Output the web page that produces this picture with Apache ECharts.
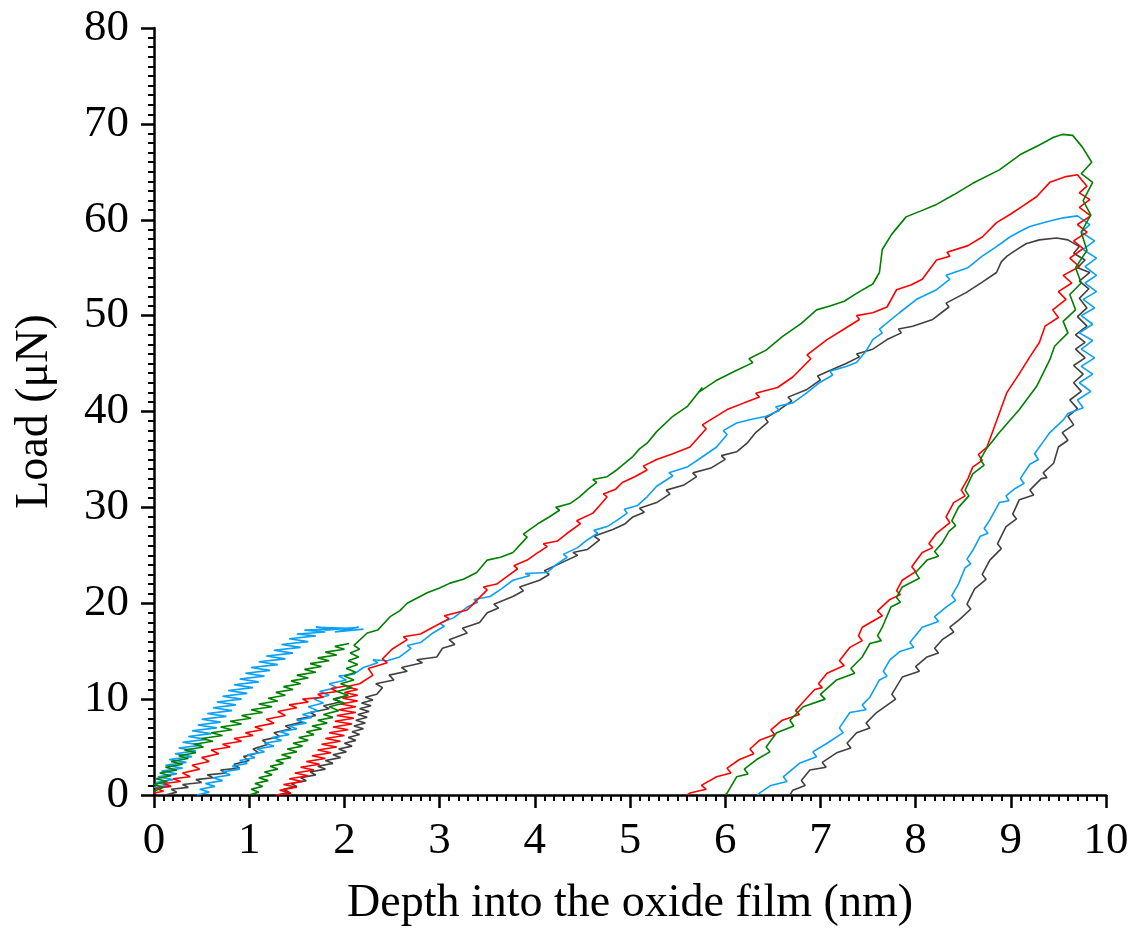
<!DOCTYPE html>
<html>
<head>
<meta charset="utf-8">
<script src="https://cdn.jsdelivr.net/npm/echarts@6/dist/echarts.min.js"></script>
<style>html,body{margin:0;padding:0;background:#fff;}#c{width:1141px;height:938px;}</style>
</head>
<body>
<div id="c"></div>
<script>
var xTitle = 'Depth into the oxide film (nm)';
var yTitle = 'Load (\u03bcN)';
var seriesNames = ['black', 'blue', 'red', 'green'];
var seriesColors = ['#404040', '#0aa0f5', '#ff0000', '#008000'];

var blackA = [[0.12,0],[0.24,0.3],[0.18,0.6],[0.36,0.8],[0.3,1.1],[0.5,1.3],[0.44,1.6],[0.62,1.8],[0.56,2.1],[0.76,2.3],[0.7,2.6],[0.9,2.8],[0.84,3.2],[1.0,3.6],[0.94,4.0],[1.1,4.4],[1.04,4.8],[1.2,5.3],[1.14,5.7],[1.32,6.1],[1.26,6.5],[1.44,6.9],[1.38,7.2],[1.56,7.6],[1.5,7.9],[1.7,8.3],[1.64,8.6],[1.84,9.0],[1.78,9.3],[1.96,9.7],[1.9,10.0],[2.04,10.4]];
var blackB = [[1.3,0],[1.42,0.3],[1.36,0.6],[1.5,0.9],[1.44,1.2],[1.6,1.5],[1.54,1.8],[1.7,2.1],[1.64,2.4],[1.8,2.7],[1.72,3.0],[1.88,3.3],[1.8,3.6],[1.96,3.9],[1.88,4.2],[2.02,4.5],[1.94,4.8],[2.08,5.1],[2.0,5.4],[2.12,5.7],[2.04,6.0],[2.16,6.3],[2.08,6.6],[2.2,6.9],[2.1,7.2],[2.22,7.5],[2.12,7.8],[2.24,8.1],[2.14,8.4],[2.26,8.7],[2.16,9.0],[2.28,9.3],[2.18,9.6],[2.3,9.9],[2.22,10.2],[2.34,10.5],[2.4,11.2],[2.33,11.6],[2.52,12.0],[2.47,12.5],[2.66,12.9],[2.6,13.3],[2.82,13.8],[2.76,14.1],[2.97,14.4],[3.03,15.3],[3.16,15.7],[3.1,16.2],[3.29,16.9],[3.24,17.4],[3.42,18.0],[3.5,19.0],[3.62,19.5],[3.57,19.9],[3.77,20.7],[3.88,21.3],[3.84,21.7],[4.05,22.4],[4.15,23.0],[4.1,23.4],[4.34,24.5],[4.45,25.0],[4.4,25.3],[4.55,25.6],[4.68,26.6],[4.62,27.0],[4.82,27.7],[4.95,28.3],[5.03,29.0],[5.15,29.5],[5.1,29.9],[5.28,30.5],[5.42,31.4],[5.38,31.8],[5.56,32.3],[5.7,33.2],[5.66,33.6],[5.85,34.1],[6.0,35.0],[5.96,35.4],[6.12,35.8],[6.23,36.7],[6.32,37.8],[6.45,38.9],[6.42,39.3],[6.57,40.2],[6.7,41.1],[6.66,41.5],[6.86,42.3],[7.0,43.3],[6.97,43.7],[7.13,44.4],[7.27,45.0],[7.41,45.7],[7.38,46.0],[7.55,46.5],[7.7,47.5],[7.85,48.2],[7.82,48.6],[7.97,48.9],[8.18,49.6],[8.35,50.9],[8.32,51.3],[8.53,52.4],[8.7,53.5],[8.85,54.5],[8.9,55.6],[8.96,56.2],[9.05,56.8],[9.16,57.5],[9.3,57.9],[9.48,58.1],[9.6,57.9],[9.72,57.2],[9.66,56.5],[9.78,55.8],[9.7,55.0],[9.83,54.5],[9.72,53.6],[9.82,52.8],[9.72,51.8],[9.8,50.8],[9.7,49.9],[9.8,48.9],[9.68,48.0],[9.78,47.2],[9.68,46.5],[9.78,45.6],[9.66,44.8],[9.76,43.9],[9.66,43.0],[9.74,42.1],[9.62,41.2],[9.7,40.3],[9.6,39.5],[9.66,38.6],[9.54,37.8],[9.6,37.0],[9.5,36.3],[9.45,34.6],[9.34,33.6],[9.38,33.1],[9.32,33.0],[9.2,31.8],[9.24,31.3],[9.09,30.8],[9.02,29.3],[9.06,28.8],[8.95,28.0],[8.86,26.2],[8.9,25.7],[8.78,24.5],[8.7,23.0],[8.74,22.5],[8.62,21.5],[8.54,19.9],[8.58,19.4],[8.46,18.3],[8.36,17.5],[8.4,17.0],[8.28,16.2],[8.2,15.3],[8.24,14.8],[8.12,14.4],[8.0,13.4],[8.04,12.9],[7.86,12.3],[7.75,10.5],[7.79,10.0],[7.59,8.6],[7.48,7.5],[7.52,7.0],[7.38,6.5],[7.28,5.4],[7.32,4.9],[7.17,4.4],[7.02,3.4],[7.06,2.9],[6.89,2.6],[6.8,1.5],[6.84,1.0],[6.71,0.5],[6.68,0]];

var blueA = [[0.0,0.8],[0.16,1.0],[0.02,1.3],[0.2,1.6],[0.04,1.9],[0.24,2.2],[0.08,2.5],[0.3,2.8],[0.12,3.1],[0.34,3.4],[0.16,3.7],[0.4,4.0],[0.22,4.3],[0.44,4.6],[0.26,4.9],[0.5,5.2],[0.3,5.5],[0.55,5.8],[0.36,6.1],[0.6,6.4],[0.4,6.7],[0.66,7.0],[0.46,7.3],[0.7,7.6],[0.5,7.9],[0.76,8.2],[0.56,8.5],[0.82,8.8],[0.62,9.1],[0.86,9.4],[0.66,9.7],[0.92,10.0],[0.72,10.3],[0.98,10.6],[0.78,10.9],[1.04,11.2],[0.84,11.5],[1.1,11.8],[0.9,12.1],[1.16,12.4],[0.96,12.7],[1.22,13.0],[1.02,13.3],[1.3,13.6],[1.1,13.9],[1.38,14.2],[1.18,14.5],[1.46,14.8],[1.26,15.1],[1.54,15.4],[1.34,15.7],[1.62,16.0],[1.42,16.3],[1.7,16.6],[1.5,16.8],[1.8,17.0],[1.58,17.2],[1.92,17.3],[1.7,17.5],[2.05,17.4],[1.8,17.2],[2.15,17.5],[1.9,17.0],[2.2,17.3]];
var blueB = [[0.45,0],[0.58,0.3],[0.48,0.6],[0.64,0.9],[0.54,1.2],[0.72,1.5],[0.62,1.8],[0.8,2.1],[0.72,2.4],[0.9,2.7],[0.82,3.0],[0.98,3.3],[0.9,3.6],[1.06,3.9],[0.98,4.2],[1.16,4.5],[1.08,4.8],[1.26,5.1],[1.16,5.4],[1.34,5.7],[1.24,6.0],[1.42,6.3],[1.32,6.6],[1.5,6.9],[1.42,7.2],[1.6,7.5],[1.5,7.8],[1.66,8.1],[1.56,8.4],[1.72,8.8],[1.62,9.2],[1.78,9.6],[1.68,10.0],[1.84,10.4],[1.74,10.8],[1.92,11.2],[1.84,11.6],[2.02,12.0],[1.94,12.4],[2.1,12.6],[2.2,13.3],[2.35,13.8],[2.3,14.1],[2.45,14.0],[2.58,14.4],[2.7,15.3],[2.66,15.6],[2.8,15.9],[2.93,16.9],[3.05,17.6],[3.0,17.9],[3.15,18.5],[3.29,19.6],[3.4,20.1],[3.36,20.4],[3.53,20.7],[3.65,21.5],[3.77,22.4],[3.95,22.9],[3.9,23.1],[4.13,23.2],[4.22,24.0],[4.34,24.8],[4.3,25.1],[4.45,25.8],[4.55,26.6],[4.66,27.3],[4.62,27.6],[4.76,28.0],[4.87,28.7],[4.97,29.4],[4.94,29.8],[5.08,30.2],[5.18,31.1],[5.28,32.2],[5.45,33.3],[5.41,33.6],[5.6,34.2],[5.75,35.2],[5.91,36.3],[6.02,37.6],[5.98,38.0],[6.12,38.8],[6.28,39.2],[6.43,39.5],[6.57,40.1],[6.53,40.5],[6.71,40.9],[6.85,41.9],[6.99,43.0],[7.13,43.8],[7.1,44.2],[7.27,44.7],[7.38,45.1],[7.48,46.3],[7.55,47.5],[7.65,48.2],[7.62,48.6],[7.83,50.3],[8.01,51.7],[8.22,52.7],[8.36,53.8],[8.32,54.2],[8.55,55.0],[8.7,56.2],[8.85,57.2],[8.99,58.2],[9.1,58.8],[9.2,59.3],[9.38,59.8],[9.55,60.2],[9.7,60.4],[9.83,59.5],[9.74,58.7],[9.88,57.8],[9.76,56.9],[9.9,56.0],[9.78,55.1],[9.9,54.2],[9.78,53.4],[9.9,52.5],[9.76,51.7],[9.88,50.8],[9.74,50.0],[9.86,49.1],[9.72,48.2],[9.86,47.4],[9.74,46.5],[9.88,45.6],[9.74,44.7],[9.86,43.9],[9.72,43.0],[9.84,42.1],[9.7,41.2],[9.76,40.4],[9.6,39.8],[9.55,39.1],[9.41,37.8],[9.33,36.7],[9.25,35.6],[9.29,35.0],[9.2,34.5],[9.1,33.0],[9.14,32.5],[9.05,32.0],[8.95,31.2],[8.98,30.7],[8.88,30.5],[8.78,28.7],[8.72,27.8],[8.76,27.3],[8.68,27.0],[8.6,25.5],[8.54,24.6],[8.58,24.1],[8.52,23.7],[8.45,22.0],[8.38,20.8],[8.42,20.3],[8.32,19.6],[8.2,18.6],[8.24,18.1],[8.07,17.5],[7.94,15.9],[7.98,15.4],[7.84,15.0],[7.73,14.1],[7.66,12.9],[7.7,12.4],[7.62,12.0],[7.52,10.2],[7.44,9.4],[7.48,8.9],[7.31,8.6],[7.2,7.0],[7.24,6.5],[7.07,5.4],[6.92,4.5],[6.96,4.0],[6.78,3.3],[6.61,1.9],[6.65,1.4],[6.48,1.0],[6.36,0.2],[6.34,0]];

var redA = [[0.0,0.2],[0.1,0.4],[0.02,0.7],[0.18,0.9],[0.1,1.2],[0.28,1.4],[0.2,1.7],[0.38,1.9],[0.3,2.3],[0.48,2.7],[0.4,3.1],[0.58,3.5],[0.5,3.9],[0.68,4.3],[0.6,4.7],[0.8,5.0],[0.72,5.3],[0.92,5.6],[0.84,5.9],[1.04,6.2],[0.96,6.5],[1.14,6.8],[1.06,7.1],[1.26,7.5],[1.18,7.9],[1.38,8.3],[1.3,8.7],[1.5,9.1],[1.42,9.4],[1.62,9.7],[1.56,10.0],[1.78,10.2],[1.72,10.5],[1.92,10.8],[1.86,11.1],[2.03,11.4]];
var redB = [[1.28,0],[1.44,0.2],[1.32,0.5],[1.5,0.8],[1.36,1.1],[1.56,1.4],[1.42,1.7],[1.62,2.0],[1.48,2.3],[1.68,2.6],[1.54,2.9],[1.74,3.2],[1.6,3.5],[1.8,3.8],[1.66,4.1],[1.86,4.4],[1.72,4.7],[1.92,5.0],[1.76,5.3],[1.96,5.6],[1.8,5.9],[2.0,6.2],[1.84,6.5],[2.04,6.8],[1.88,7.1],[2.08,7.4],[1.9,7.7],[2.1,8.0],[1.92,8.3],[2.12,8.6],[1.94,8.9],[2.12,9.2],[1.96,9.5],[2.14,9.8],[1.98,10.1],[2.14,10.4],[2.0,10.7],[2.14,11.0],[2.02,11.3],[2.16,11.6],[2.3,12.5],[2.25,13.2],[2.45,13.8],[2.4,14.2],[2.5,15.2],[2.66,16.2],[2.62,16.5],[2.8,16.8],[2.93,17.5],[3.1,18.4],[3.05,18.7],[3.29,19.3],[3.4,20.4],[3.5,21.4],[3.46,21.7],[3.6,22.0],[3.71,22.8],[3.82,23.6],[3.78,23.9],[3.92,24.5],[4.02,25.2],[4.13,25.9],[4.09,26.2],[4.24,26.5],[4.34,27.3],[4.48,28.3],[4.44,28.6],[4.61,29.4],[4.7,30.4],[4.76,31.1],[4.72,31.4],[4.85,31.9],[4.92,32.6],[5.05,33.2],[5.18,33.9],[5.14,34.3],[5.28,35.0],[5.45,35.6],[5.63,36.3],[5.8,38.2],[5.76,38.6],[6.02,40.2],[6.2,40.9],[6.36,41.5],[6.32,41.9],[6.55,42.5],[6.71,43.6],[6.9,45.5],[6.86,45.9],[7.07,47.5],[7.25,48.6],[7.41,49.6],[7.38,50.0],[7.55,50.3],[7.7,50.9],[7.8,52.7],[7.95,53.2],[8.07,53.8],[8.22,55.8],[8.36,56.2],[8.33,56.6],[8.55,57.3],[8.7,58.2],[8.85,59.7],[9.0,60.6],[9.12,61.4],[9.27,62.4],[9.41,63.9],[9.58,64.5],[9.7,64.7],[9.8,63.5],[9.72,62.8],[9.83,62.1],[9.72,61.3],[9.84,60.4],[9.7,59.5],[9.8,58.7],[9.66,57.8],[9.76,57.0],[9.62,56.0],[9.72,55.1],[9.55,54.2],[9.64,53.4],[9.5,52.5],[9.58,51.7],[9.44,50.6],[9.5,49.8],[9.36,48.9],[9.3,47.2],[9.2,45.7],[9.08,43.8],[8.96,42.0],[8.85,39.0],[8.75,36.3],[8.66,35.5],[8.7,34.9],[8.6,34.2],[8.55,33.0],[8.48,31.8],[8.52,31.2],[8.4,30.5],[8.32,29.0],[8.36,28.4],[8.22,27.3],[8.14,26.2],[8.18,25.8],[8.07,25.3],[7.96,23.8],[8.0,23.3],[7.86,22.4],[7.8,21.3],[7.84,20.9],[7.73,20.4],[7.6,19.2],[7.65,18.7],[7.44,17.5],[7.4,16.6],[7.44,16.1],[7.31,15.4],[7.2,14.0],[7.25,13.5],[7.07,12.7],[6.98,11.6],[7.02,11.2],[6.94,11.0],[6.81,9.6],[6.74,8.8],[6.78,8.4],[6.6,7.8],[6.48,6.8],[6.52,6.3],[6.36,5.7],[6.26,4.8],[6.3,4.3],[6.15,3.7],[6.02,2.8],[6.06,2.3],[5.91,1.9],[5.75,1.0],[5.8,0.6],[5.63,0.2],[5.6,0]];

var greenA = [[0.0,0.4],[0.1,0.8],[0.0,1.1],[0.14,1.4],[0.02,1.7],[0.18,2.0],[0.06,2.3],[0.24,2.6],[0.12,2.9],[0.3,3.2],[0.18,3.5],[0.36,3.8],[0.26,4.1],[0.44,4.4],[0.32,4.7],[0.52,5.0],[0.42,5.3],[0.62,5.6],[0.5,5.9],[0.72,6.2],[0.6,6.5],[0.82,6.8],[0.7,7.1],[0.92,7.4],[0.8,7.7],[1.02,8.0],[0.92,8.3],[1.14,8.6],[1.02,8.9],[1.24,9.2],[1.1,9.5],[1.3,9.8],[1.2,10.1],[1.38,10.4],[1.28,10.7],[1.46,11.0],[1.36,11.3],[1.54,11.6],[1.44,11.9],[1.62,12.2],[1.5,12.5],[1.7,12.8],[1.58,13.1],[1.76,13.4],[1.64,13.7],[1.84,14.0],[1.72,14.3],[1.92,14.6],[1.8,14.9],[2.0,15.2],[1.9,15.5],[2.05,15.8]];
var greenB = [[1.0,0],[1.1,0.3],[1.02,0.6],[1.14,0.9],[1.06,1.2],[1.2,1.5],[1.1,1.8],[1.24,2.1],[1.16,2.4],[1.3,2.7],[1.22,3.0],[1.36,3.3],[1.28,3.6],[1.44,3.9],[1.34,4.2],[1.5,4.5],[1.4,4.8],[1.56,5.1],[1.46,5.4],[1.62,5.7],[1.52,6.0],[1.68,6.3],[1.6,6.6],[1.76,6.9],[1.66,7.2],[1.82,7.5],[1.72,7.8],[1.88,8.1],[1.78,8.4],[1.94,8.8],[1.84,9.2],[2.0,9.6],[1.88,10.0],[2.04,10.4],[1.92,10.8],[2.08,11.2],[1.96,11.6],[2.1,12.0],[2.0,12.4],[2.12,12.8],[2.02,13.2],[2.14,13.6],[2.04,14.0],[2.15,14.4],[2.06,14.8],[2.16,15.2],[2.1,15.6],[2.24,16.9],[2.35,17.2],[2.48,18.6],[2.58,19.2],[2.66,20.0],[2.87,21.1],[3.0,21.6],[3.11,22.1],[3.25,22.5],[3.39,23.2],[3.5,24.5],[3.64,24.8],[3.77,25.3],[3.92,26.9],[3.88,27.2],[4.05,28.4],[4.15,29.0],[4.26,29.7],[4.22,30.0],[4.37,30.4],[4.47,31.1],[4.56,31.9],[4.65,32.6],[4.61,32.9],[4.76,33.2],[4.86,33.9],[5.03,35.3],[5.1,36.1],[5.18,36.7],[5.28,37.9],[5.45,39.5],[5.6,40.5],[5.76,42.5],[5.72,42.0],[5.9,43.2],[6.1,44.2],[6.29,45.1],[6.25,45.5],[6.43,46.4],[6.6,47.8],[6.8,49.2],[6.96,50.6],[7.1,51.0],[7.25,51.5],[7.41,52.5],[7.55,53.3],[7.62,54.5],[7.65,56.9],[7.75,58.5],[7.9,60.3],[8.05,60.9],[8.22,61.6],[8.4,62.6],[8.6,63.8],[8.88,65.2],[9.1,66.8],[9.3,67.8],[9.45,68.6],[9.54,68.9],[9.65,68.8],[9.75,67.6],[9.85,66.0],[9.74,64.8],[9.86,63.9],[9.76,62.0],[9.84,60.5],[9.74,58.7],[9.8,56.8],[9.68,55.0],[9.74,53.4],[9.62,52.2],[9.68,50.6],[9.55,49.4],[9.6,48.2],[9.46,46.8],[9.41,45.4],[9.27,42.6],[9.09,40.2],[8.88,37.8],[8.75,36.2],[8.68,35.0],[8.72,34.4],[8.6,33.5],[8.52,31.8],[8.56,31.2],[8.45,30.0],[8.38,28.6],[8.42,28.1],[8.35,27.5],[8.28,26.3],[8.2,25.4],[8.24,24.9],[8.12,24.5],[8.0,23.2],[8.04,22.6],[7.86,21.7],[7.8,20.6],[7.84,20.1],[7.74,19.6],[7.65,17.5],[7.6,16.6],[7.64,16.1],[7.52,15.8],[7.44,14.4],[7.32,13.2],[7.36,12.7],[7.17,12.0],[7.0,10.5],[7.05,10.0],[6.82,9.2],[6.68,7.8],[6.72,7.2],[6.54,6.5],[6.43,5.0],[6.47,4.5],[6.33,3.7],[6.2,2.7],[6.24,2.2],[6.12,1.9],[6.02,0.2],[6.0,0]];

var xTicks = {min: 0, max: 10, interval: 1};
var yTicks = {min: 0, max: 80, interval: 10};

var font = '"Liberation Serif", "Times New Roman", serif';
function mk(name, data, color) {
  return {name: name, type: 'line', data: data, showSymbol: false, symbol: 'none',
    lineStyle: {color: color, width: 1.6}, itemStyle: {color: color}, z: 2, animation: false};
}
function axisCommon() {
  return {
    axisLine: {show: true, onZero: false, lineStyle: {color: '#000', width: 2.5}},
    axisTick: {show: true, inside: false, length: 13, lineStyle: {color: '#000', width: 2.5}},
    minorTick: {show: true, splitNumber: 10, length: 6, lineStyle: {color: '#000', width: 2}},
    splitLine: {show: false},
    minorSplitLine: {show: false},
    axisLabel: {color: '#000', fontFamily: font, fontSize: 45},
    nameTextStyle: {color: '#000', fontFamily: font, fontSize: 46}
  };
}
var xa = Object.assign(axisCommon(), {type: 'value', min: xTicks.min, max: xTicks.max, interval: xTicks.interval,
  name: xTitle, nameLocation: 'middle', nameGap: 86});
xa.axisLabel.margin = 24;
var ya = Object.assign(axisCommon(), {type: 'value', min: yTicks.min, max: yTicks.max, interval: yTicks.interval,
  name: yTitle, nameLocation: 'middle', nameGap: 96, nameRotate: 90});
ya.axisLabel.margin = 25;

var chart = echarts.init(document.getElementById('c'), null, {renderer: 'canvas'});
chart.setOption({
  animation: false,
  backgroundColor: '#fff',
  grid: {left: 154, right: 35, top: 28, bottom: 143, containLabel: false},
  xAxis: xa,
  yAxis: ya,
  series: [
    mk(seriesNames[0], blackA, seriesColors[0]),
    mk(seriesNames[0], blackB, seriesColors[0]),
    mk(seriesNames[1], blueA, seriesColors[1]),
    mk(seriesNames[1], blueB, seriesColors[1]),
    mk(seriesNames[2], redA, seriesColors[2]),
    mk(seriesNames[2], redB, seriesColors[2]),
    mk(seriesNames[3], greenA, seriesColors[3]),
    mk(seriesNames[3], greenB, seriesColors[3])
  ]
});
</script>
</body>
</html>
